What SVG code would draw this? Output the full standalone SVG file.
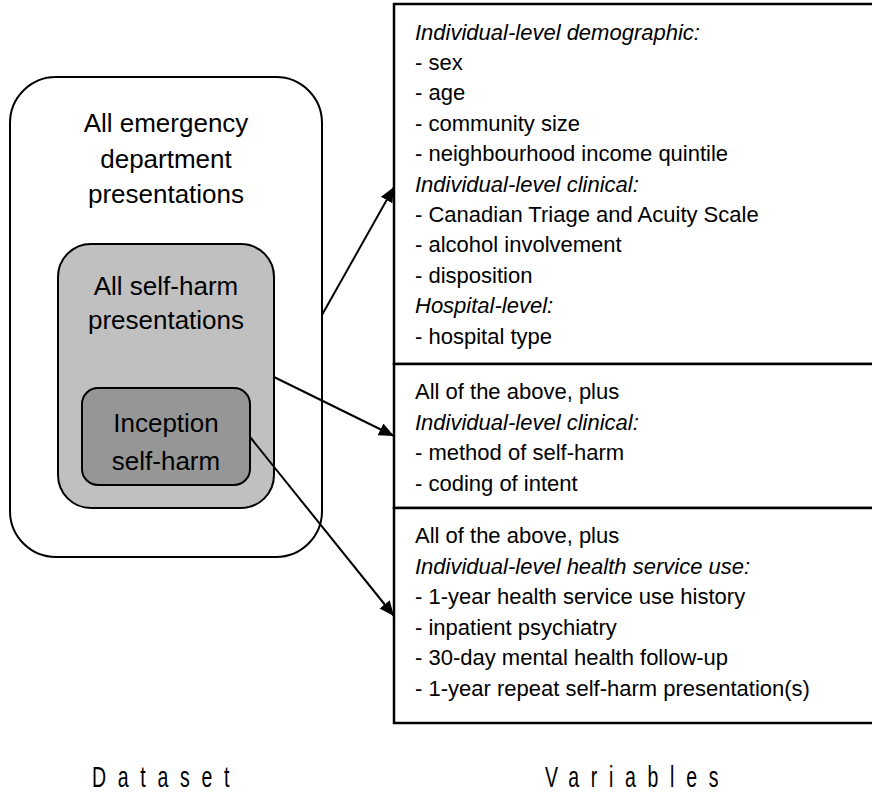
<svg xmlns="http://www.w3.org/2000/svg" width="872" height="795" viewBox="0 0 872 795">
<style>
.t{font-family:"Liberation Sans",Arial,sans-serif;fill:#000}
.big{font-size:26px;text-anchor:middle}
.sm{font-size:22px}
.it{font-style:italic}
.box{stroke:#000;stroke-width:2}
.lbl{font-family:"Liberation Sans",Arial,sans-serif;font-size:30px;letter-spacing:18px}
.conn{stroke:#000;stroke-width:2;fill:none;marker-end:url(#ah)}
</style>
<defs>
<marker id="ah" markerUnits="userSpaceOnUse" markerWidth="16" markerHeight="14" refX="15" refY="6.5" orient="auto">
<path d="M0,0 L15,6.5 L0,13 Z" fill="#000"/>
</marker>
</defs>
<rect width="872" height="795" fill="#fff"/>
<g id="dataset-all-ed">
<rect class="box" x="10" y="77" width="312" height="480" rx="46" ry="46" fill="#fff"/>
<text class="t big" x="166" y="132">All emergency</text>
<text class="t big" x="166" y="168">department</text>
<text class="t big" x="166" y="203">presentations</text>
</g>
<g id="dataset-self-harm">
<rect class="box" x="58" y="244" width="216" height="264" rx="33" ry="33" fill="#c0c0c0"/>
<text class="t big" x="166" y="295">All self-harm</text>
<text class="t big" x="166" y="329">presentations</text>
</g>
<g id="dataset-inception">
<rect class="box" x="82" y="388" width="168" height="97" rx="16" ry="16" fill="#969696"/>
<text class="t big" x="166" y="432">Inception</text>
<text class="t big" x="166" y="470">self-harm</text>
</g>
<g id="variables-1">
<rect x="394" y="4" width="490" height="360" fill="#fff" stroke="#000" stroke-width="2.5"/>
<text class="t sm it" x="415" y="39.5">Individual-level demographic:</text>
<text class="t sm" x="415" y="70">- sex</text>
<text class="t sm" x="415" y="100.3">- age</text>
<text class="t sm" x="415" y="130.7">- community size</text>
<text class="t sm" x="415" y="161.1">- neighbourhood income quintile</text>
<text class="t sm it" x="415" y="191.5">Individual-level clinical:</text>
<text class="t sm" x="415" y="221.9">- Canadian Triage and Acuity Scale</text>
<text class="t sm" x="415" y="252.3">- alcohol involvement</text>
<text class="t sm" x="415" y="282.7">- disposition</text>
<text class="t sm it" x="415" y="313.1">Hospital-level:</text>
<text class="t sm" x="415" y="343.5">- hospital type</text>
</g>
<g id="variables-2">
<rect x="394" y="364" width="490" height="144" fill="#fff" stroke="#000" stroke-width="2.5"/>
<text class="t sm" x="415" y="399">All of the above, plus</text>
<text class="t sm it" x="415" y="429.5">Individual-level clinical:</text>
<text class="t sm" x="415" y="460">- method of self-harm</text>
<text class="t sm" x="415" y="490.5">- coding of intent</text>
</g>
<g id="variables-3">
<rect x="394" y="508" width="490" height="215" fill="#fff" stroke="#000" stroke-width="2.5"/>
<text class="t sm" x="415" y="543">All of the above, plus</text>
<text class="t sm it" x="415" y="573.5">Individual-level health service use:</text>
<text class="t sm" x="415" y="604">- 1-year health service use history</text>
<text class="t sm" x="415" y="634.5">- inpatient psychiatry</text>
<text class="t sm" x="415" y="665">- 30-day mental health follow-up</text>
<text class="t sm" x="415" y="695.5">- 1-year repeat self-harm presentation(s)</text>
</g>
<g id="connectors">
<line class="conn" x1="322" y1="315" x2="394" y2="187"/>
<line class="conn" x1="274" y1="377" x2="394" y2="436"/>
<line class="conn" x1="250" y1="437" x2="394" y2="616"/>
</g>
<g id="labels">
<text class="lbl" transform="translate(92,787) scale(0.65,1)" x="0" y="0">Dataset</text>
<text class="lbl" transform="translate(545,787) scale(0.65,1)" x="0" y="0">Variables</text>
</g>
</svg>
